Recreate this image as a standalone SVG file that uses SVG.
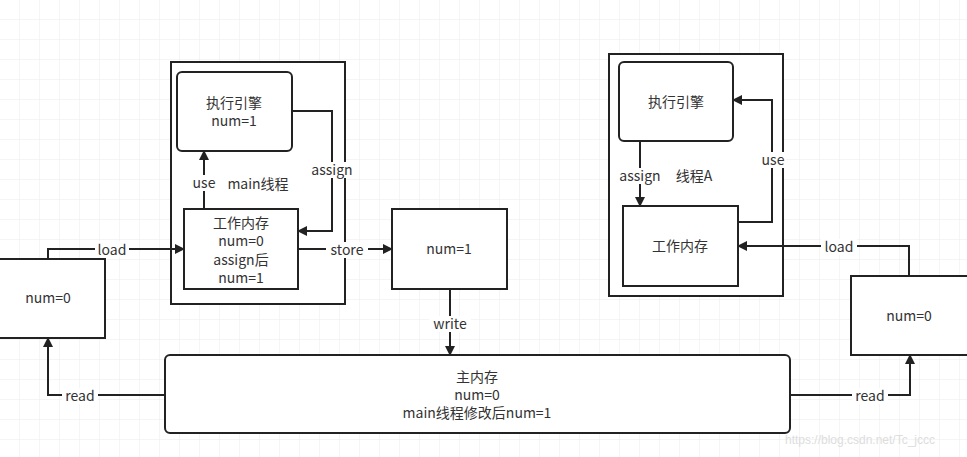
<svg xmlns="http://www.w3.org/2000/svg" width="967" height="457" viewBox="0 0 967 457">
<defs>
<pattern id="grid" width="20" height="20" patternUnits="userSpaceOnUse"><path d="M20 0V20H0" fill="none" stroke="#ebebeb" stroke-width="1"/></pattern>
<marker id="ar" markerWidth="10" markerHeight="10" refX="9" refY="5" orient="auto" markerUnits="userSpaceOnUse"><path d="M0 0L10 5L0 10Z" fill="#222"/></marker>
</defs>
<style>
.b{fill:#fff;stroke:#222;stroke-width:2}
.c{fill:none;stroke:#222;stroke-width:2}
.t{font-family:"Noto Sans CJK SC","Noto Sans",sans-serif;font-size:14px;fill:#333;text-anchor:middle}
.lb{fill:#fff}
</style>
<rect width="967" height="457" fill="#fff"/>
<rect width="967" height="457" fill="url(#grid)"/>
<g id="threadMain"><rect class="b" x="171" y="62" width="174" height="242"/><text class="t" x="258" y="189">main线程</text></g>
<g id="threadA"><rect class="b" x="609" y="54" width="174" height="242"/><text class="t" x="694" y="181">线程A</text></g>
<g id="engineMain"><rect class="b" x="177" y="72" width="115" height="79" rx="5"/><text class="t" x="234" y="108">执行引擎</text><text class="t" x="234" y="126">num=1</text></g>
<g id="workMain"><rect class="b" x="184" y="209" width="114" height="80"/><text class="t" x="241" y="228">工作内存</text><text class="t" x="241" y="246">num=0</text><text class="t" x="241" y="265">assign后</text><text class="t" x="241" y="283">num=1</text></g>
<g id="mid"><rect class="b" x="392" y="209" width="115" height="80"/><text class="t" x="449" y="254">num=1</text></g>
<g id="leftMem"><rect class="b" x="-5" y="259" width="110" height="79"/><text class="t" x="48" y="303">num=0</text></g>
<g id="engineA"><rect class="b" x="619" y="62" width="114" height="79" rx="5"/><text class="t" x="676" y="107">执行引擎</text></g>
<g id="workA"><rect class="b" x="623" y="206" width="115" height="80"/><text class="t" x="680" y="251">工作内存</text></g>
<g id="rightMem"><rect class="b" x="851" y="276" width="118" height="79"/><text class="t" x="909" y="321">num=0</text></g>
<g id="mainMem"><rect class="b" x="165" y="355" width="625" height="78" rx="5"/><text class="t" x="477" y="382">主内存</text><text class="t" x="477" y="400">num=0</text><text class="t" x="477" y="418">main线程修改后num=1</text></g>
<g id="connectors">
<path class="c" d="M48 259V249H184" marker-end="url(#ar)"/>
<rect class="lb" x="95" y="241" width="34" height="16"/><text class="t" x="112" y="255">load</text>
<path class="c" d="M292 111H332V231H298" marker-end="url(#ar)"/>
<rect class="lb" x="308" y="162" width="48" height="16"/><text class="t" x="332" y="175">assign</text>
<path class="c" d="M204 209V151" marker-end="url(#ar)"/>
<rect class="lb" x="191" y="175" width="26" height="16"/><text class="t" x="204" y="188">use</text>
<path class="c" d="M298 249H392" marker-end="url(#ar)"/>
<rect class="lb" x="326" y="242" width="42" height="16"/><text class="t" x="347" y="255">store</text>
<path class="c" d="M450 289V355" marker-end="url(#ar)"/>
<rect class="lb" x="429" y="316" width="42" height="16"/><text class="t" x="450" y="329">write</text>
<path class="c" d="M165 395H48V338" marker-end="url(#ar)"/>
<rect class="lb" x="62" y="388" width="36" height="16"/><text class="t" x="80" y="401">read</text>
<path class="c" d="M790 395H910V355" marker-end="url(#ar)"/>
<rect class="lb" x="852" y="388" width="36" height="16"/><text class="t" x="870" y="401">read</text>
<path class="c" d="M640 141V206" marker-end="url(#ar)"/>
<rect class="lb" x="616" y="168" width="48" height="16"/><text class="t" x="640" y="181">assign</text>
<path class="c" d="M738 222H772V100H733" marker-end="url(#ar)"/>
<rect class="lb" x="760" y="152" width="26" height="16"/><text class="t" x="773" y="165">use</text>
<path class="c" d="M909 276V246H738" marker-end="url(#ar)"/>
<rect class="lb" x="821" y="239" width="36" height="16"/><text class="t" x="839" y="252">load</text>
</g>
<text x="860" y="444" style="font-family:'Liberation Sans',sans-serif;font-size:12px;fill:#ddd;text-anchor:middle">https://blog.csdn.net/Tc_jccc</text>
</svg>
